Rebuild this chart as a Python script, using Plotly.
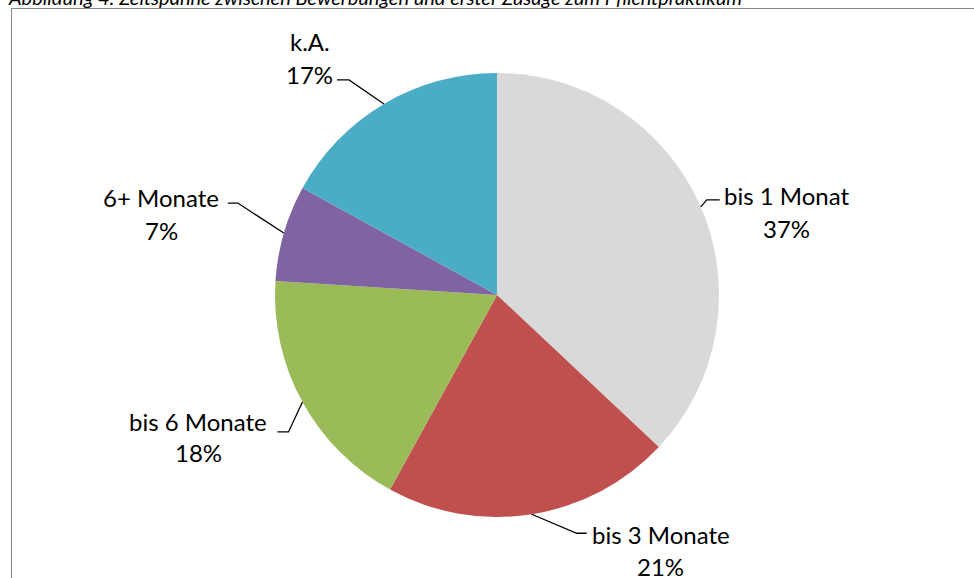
import math
import plotly.graph_objects as go

W, H = 974, 578

categories = ["bis 1 Monat", "bis 3 Monate", "bis 6 Monate", "6+ Monate", "k.A."]
values = [37, 21, 18, 7, 17]
pct_labels = ["37%", "21%", "18%", "7%", "17%"]
colors = ["#D9D9D9", "#C0504D", "#9BBB59", "#8064A2", "#4BACC6"]
title = "Abbildung 4: Zeitspanne zwischen Bewerbungen und erster Zusage zum Pflichtpraktikum"

# layout (pixels)
CX, CY, R = 497, 295, 222
# per-label layout offsets from the slice's edge mid-point (pixels)
elbow_off = [(6, -7), (45, 19), (-14, 30), (-46, -30), (-35, -24)]
end_off = [(19, -7), (55, 19), (-25, 30), (-56, -30), (-47, -24)]
name_off = [(86, -11), (129, 20), (-104, 20), (-123, -36), (-74, -62)]
pct_off = [(86, 22), (129, 52), (-104, 51), (-122, -3), (-74, -29)]

FONT = "Lato"
FS = 24


def px(x):
    return x / W


def py(y):
    return 1 - y / H


fig = go.Figure(go.Pie(
    labels=categories, values=values, sort=False, direction="clockwise",
    rotation=0, textinfo="none", hoverinfo="label+percent",
    marker=dict(colors=colors, line=dict(width=0)),
    domain=dict(x=[px(CX - R), px(CX + R)], y=[py(CY + R), py(CY - R)]),
    showlegend=False,
))

shapes = [dict(type="rect", xref="paper", yref="paper",
               x0=px(11.5), x1=px(W + 10), y0=py(H + 10), y1=py(8.5),
               line=dict(color="#868686", width=1), fillcolor="rgba(0,0,0,0)")]
annotations = []
total = sum(values)
cum = 0
for i, v in enumerate(values):
    theta = 2 * math.pi * (cum + v / 2) / total
    cum += v
    ax_ = CX + R * math.sin(theta)
    ay_ = CY - R * math.cos(theta)
    ex, ey = ax_ + elbow_off[i][0], ay_ + elbow_off[i][1]
    tx, ty = ax_ + end_off[i][0], ay_ + end_off[i][1]
    shapes.append(dict(type="path", xref="paper", yref="paper",
                       path=f"M {px(ax_)} {py(ay_)} L {px(ex)} {py(ey)} L {px(tx)} {py(ty)}",
                       line=dict(color="black", width=1.3)))
    for txt, off in ((categories[i], name_off[i]), (pct_labels[i], pct_off[i])):
        annotations.append(dict(text=txt, xref="paper", yref="paper",
                                x=px(ax_ + off[0]), y=py(ay_ + off[1]),
                                xanchor="center", yanchor="middle", showarrow=False,
                                font=dict(family=FONT, size=FS, color="#000000")))

annotations.append(dict(text=title, xref="paper", yref="paper", x=px(6), y=py(-3),
                        xanchor="left", yanchor="middle", showarrow=False,
                        font=dict(family=FONT, size=20, color="#000000", style="italic")))

fig.update_layout(width=W, height=H, margin=dict(l=0, r=0, t=0, b=0),
                  paper_bgcolor="white", plot_bgcolor="white",
                  shapes=shapes, annotations=annotations)
fig.write_html("out.html", config={"displayModeBar": False},
               post_script="document.body.style.margin='0';")
